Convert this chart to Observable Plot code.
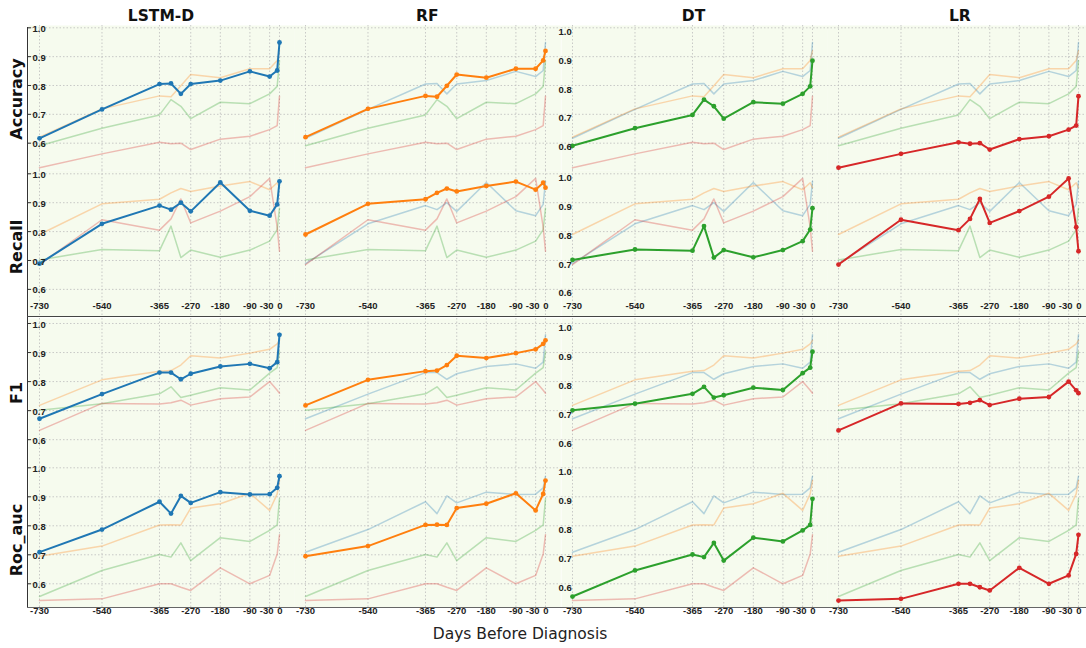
<!DOCTYPE html>
<html><head><meta charset="utf-8">
<script src="https://cdn.jsdelivr.net/npm/d3@7"></script>
<script src="https://cdn.jsdelivr.net/npm/@observablehq/plot@0.6"></script>
<style>
body{margin:0;background:#fff;}
#wrap{position:relative;width:1086px;height:648px;overflow:hidden;font-family:"DejaVu Sans",sans-serif;background:#fff;}
.t{position:absolute;white-space:nowrap;color:#111;}
.ln{position:absolute;}
</style></head><body><div id="wrap"></div>
<script>
// ---- data ----
const days = [-730,-540,-365,-330,-300,-270,-180,-90,-30,-7,0];
const tickDays = [-730,-540,-365,-270,-180,-90,-30,0];
const yTicks = [0.6,0.7,0.8,0.9,1.0];
const models = ["LSTM-D","RF","DT","LR"];
const metrics = ["Accuracy","Recall","F1","Roc_auc"];
const colors = ["#1f77b4","#ff7f0e","#2ca02c","#d62728"];

const accLSTM = [0.617,0.717,0.805,0.807,0.771,0.805,0.817,0.849,0.831,0.852,0.949];
const accRF   = [0.621,0.719,0.764,0.761,0.799,0.838,0.827,0.858,0.858,0.887,0.920];
const accDT   = [0.591,0.652,0.698,0.751,0.728,0.685,0.742,0.737,0.771,0.797,0.886];
const accLR   = [0.515,0.563,0.603,0.598,0.600,0.578,0.614,0.624,0.647,0.661,0.763];

const recLSTM = [0.689,0.827,0.890,0.876,0.900,0.870,0.970,0.872,0.855,0.894,0.974];
const recRF   = [0.790,0.896,0.912,0.934,0.949,0.939,0.958,0.973,0.945,0.969,0.952];
const recDT   = [0.702,0.738,0.734,0.819,0.710,0.736,0.711,0.736,0.767,0.807,0.881];
const recLR   = [0.686,0.841,0.805,0.844,0.913,0.830,0.871,0.921,0.984,0.815,0.732];

const f1LSTM  = [0.672,0.757,0.831,0.831,0.808,0.827,0.852,0.861,0.846,0.867,0.961];
const f1RF    = [0.718,0.806,0.836,0.838,0.857,0.889,0.881,0.898,0.911,0.930,0.942];
const f1DT    = [0.701,0.724,0.758,0.782,0.745,0.753,0.779,0.771,0.829,0.848,0.903];
const f1LR    = [0.632,0.725,0.723,0.727,0.736,0.719,0.741,0.747,0.800,0.770,0.760];

const rocLSTM = [0.709,0.787,0.883,0.842,0.903,0.879,0.916,0.908,0.909,0.931,0.971];
const rocRF   = [0.695,0.730,0.803,0.804,0.803,0.861,0.876,0.912,0.853,0.910,0.956];
const rocDT   = [0.556,0.646,0.701,0.692,0.741,0.680,0.759,0.746,0.784,0.803,0.893];
const rocLR   = [0.542,0.548,0.600,0.600,0.588,0.577,0.655,0.600,0.629,0.703,0.769];

const seriesByMetric = {
  "Accuracy": [accLSTM, accRF, accDT, accLR],
  "Recall":   [recLSTM, recRF, recDT, recLR],
  "F1":       [f1LSTM, f1RF, f1DT, f1LR],
  "Roc_auc":  [rocLSTM, rocRF, rocDT, rocLR]
};

// long table
const table = [];
metrics.forEach(met => seriesByMetric[met].forEach((vals, j) =>
  vals.forEach((v, i) => table.push({metric: met, model: models[j], day: days[i], value: v}))));

// ---- layout ----
const BG = "#f6fbee";
const GRID = "#bdbdbd";
const W = 266.3;
const pxPerDay = 240 / 730;
const xDom = [-730 - 11 / pxPerDay, (W - 251) / pxPerDay];
const rowsCfg = [
  {metric: "Accuracy", top: 25,    bottom: 170,   y1: 27.3,  k: 288.5, xlab: null},
  {metric: "Recall",   top: 170,   bottom: 316.7, y1: 173.3, k: 289,   xlab: "inside"},
  {metric: "F1",       top: 317.5, bottom: 462,   y1: 322.5, k: 290.5, xlab: null},
  {metric: "Roc_auc",  top: 462,   bottom: 607,   y1: 467.3, k: 290,   xlab: "below"}
];
const rowLabelY = [99, 247, 393, 540];

const wrap = document.getElementById("wrap");
const tickFont = {fontFamily: "'Liberation Sans', Arial, sans-serif", fontSize: "9.5px", fontWeight: "bold"};

function xLabels(dy) {
  // the last two labels sit close together; nudge them apart as in the reference
  const main = tickDays.filter(d => d !== -30 && d !== 0);
  return [
    Plot.text(main, {x: d => d, text: d => String(d), frameAnchor: "bottom", dy, fill: "#222", ...tickFont}),
    Plot.text([-30], {x: d => d, text: d => String(d), frameAnchor: "bottom", dy, dx: -3, fill: "#222", ...tickFont}),
    Plot.text([0], {x: d => d, text: d => String(d), frameAnchor: "bottom", dy, dx: 0.5, fill: "#222", ...tickFont})
  ];
}

rowsCfg.forEach((row, r) => {
  const H = row.bottom - row.top;
  const dom = [1 - (row.bottom - row.y1) / row.k, 1 + (row.y1 - row.top) / row.k];
  const mb = row.xlab === "below" ? 16 : 0;
  models.forEach((m, c) => {
    const marks = [
      Plot.frame({fill: BG, stroke: "none"}),
      Plot.ruleX(tickDays, {stroke: GRID, strokeWidth: 0.8, strokeDasharray: "1.5,2"}),
      Plot.ruleY(yTicks, {stroke: GRID, strokeWidth: 0.8, strokeDasharray: "1.5,2"})
    ];
    models.forEach((m2, j) => {
      if (j === c) return;
      marks.push(Plot.line(table.filter(d => d.metric === row.metric && d.model === m2),
        {x: "day", y: "value", stroke: colors[j], strokeOpacity: 0.3, strokeWidth: 1.5}));
    });
    const hl = table.filter(d => d.metric === row.metric && d.model === m);
    marks.push(Plot.line(hl, {x: "day", y: "value", stroke: colors[c], strokeWidth: 2}));
    marks.push(Plot.dot(hl, {x: "day", y: "value", fill: colors[c], r: 2.4}));
    if (c === 0) {
      marks.push(Plot.ruleY(yTicks, {x1: xDom[0], x2: xDom[0] + 3 / pxPerDay, stroke: "#333", strokeWidth: 1}));
    }
    if (c === 0 || c === 2) {
      marks.push(Plot.text(yTicks, {y: d => d, text: d => d.toFixed(1), frameAnchor: "left",
        textAnchor: "start", dx: c === 0 ? 4 : -3, dy: c === 0 ? 1 : 4, fill: "#222", ...tickFont}));
    }
    if (row.xlab === "inside") marks.push(...xLabels(-8.5));
    if (row.xlab === "below") marks.push(...xLabels(6.5));
    const svg = Plot.plot({
      width: W, height: H + mb,
      marginLeft: 0, marginRight: 0, marginTop: 0, marginBottom: mb,
      x: {domain: xDom, axis: null},
      y: {domain: dom, axis: null},
      style: {background: "transparent", overflow: "visible"},
      marks
    });
    svg.style.position = "absolute";
    svg.style.left = (28 + W * c) + "px";
    svg.style.top = row.top + "px";
    wrap.appendChild(svg);
  });
});

// lines (spines)
function line(l, t, w, h, col) {
  const d = document.createElement("div");
  d.className = "ln";
  Object.assign(d.style, {left: l + "px", top: t + "px", width: w + "px", height: h + "px", background: col});
  wrap.appendChild(d);
}
line(27.3, 26.5, 1.2, 581, "#333");
line(27.3, 315.9, 1060, 1.6, "#444");
line(27.3, 606.5, 1060, 1, "#666");

// titles
function text(str, x, y, css, rot) {
  const d = document.createElement("div");
  d.className = "t";
  d.textContent = str;
  Object.assign(d.style, {left: x + "px", top: y + "px"}, css);
  d.style.transform = "translate(-50%,-50%)" + (rot ? " rotate(-90deg)" : "");
  wrap.appendChild(d);
}
const colCenters = models.map((m, c) => 28 + W * c + 133);
models.forEach((m, c) => text(m, colCenters[c], 16, {fontWeight: "bold", fontSize: "15.5px"}));
metrics.forEach((m, r) => text(m, 16, rowLabelY[r], {fontWeight: "bold", fontSize: "16px"}, true));
text("Days Before Diagnosis", 520, 634, {fontSize: "15.5px", color: "#222"});
</script></body></html>
